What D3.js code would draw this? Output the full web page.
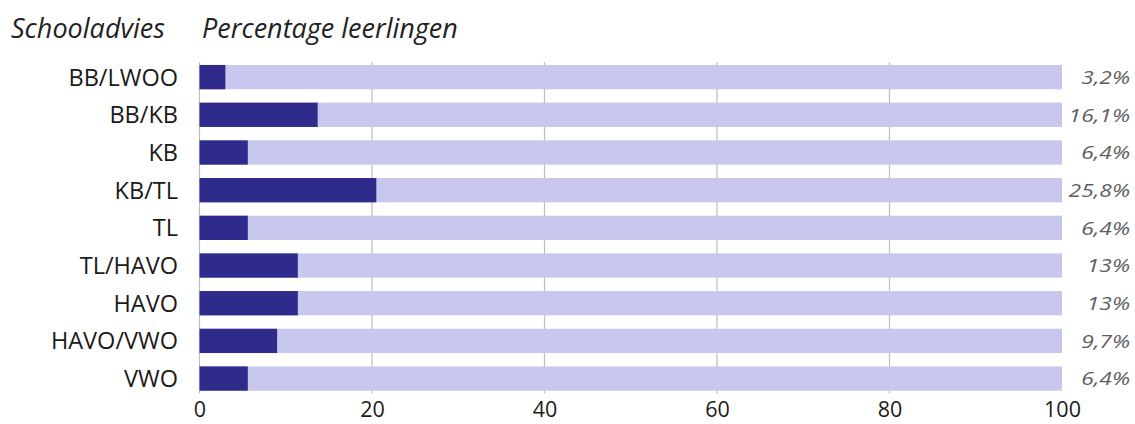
<!DOCTYPE html>
<html><head><meta charset="utf-8">
<script src="https://cdn.jsdelivr.net/npm/d3@7"></script>
<style>body{margin:0;background:#fff;font-family:"Open Sans",sans-serif;}</style>
</head><body><svg id="c" width="1135" height="424"></svg>
<script>
const categories = ["BB/LWOO","BB/KB","KB","KB/TL","TL","TL/HAVO","HAVO","HAVO/VWO","VWO"];
const barValues = [3.0, 13.7, 5.6, 20.5, 5.6, 11.4, 11.4, 9.0, 5.6];
const valueLabels = ["3,2%","16,1%","6,4%","25,8%","6,4%","13%","13%","9,7%","6,4%"];
const ticks = [0,20,40,60,80,100];

const svg = d3.select("#c");
const x = d3.scaleLinear().domain([0,100]).range([199.5,1062]);
const y = d3.scaleBand().domain(categories).range([58.2,397.5]).paddingInner(0.355).paddingOuter(0.18);

// gridlines
svg.append("g").selectAll("line").data(ticks.slice(0,5)).join("line")
  .attr("x1",d=>x(d)).attr("x2",d=>x(d))
  .attr("y1",y.range()[0]+4).attr("y2",y.range()[1]-4)
  .attr("stroke","#bdbdbd").attr("stroke-width",1.2);

// background bars
svg.append("g").selectAll("rect").data(categories).join("rect")
  .attr("x",x(0)).attr("y",d=>y(d)).attr("width",x(100)-x(0)).attr("height",y.bandwidth())
  .attr("fill","#c8c7ee");
// value bars
svg.append("g").selectAll("rect").data(categories).join("rect")
  .attr("x",x(0)).attr("y",d=>y(d)).attr("width",(d,i)=>x(barValues[i])-x(0)).attr("height",y.bandwidth())
  .attr("fill","#2f2b8c");

// category labels
svg.append("g").selectAll("text").data(categories).join("text")
  .attr("x",178).attr("y",d=>y(d)+y.bandwidth()/2).attr("dy","0.36em")
  .attr("text-anchor","end").attr("font-size",23.5).attr("fill","#1a1a1a").text(d=>d);

// value labels (slightly stretched horizontally like the reference)
svg.append("g").selectAll("text").data(valueLabels).join("text")
  .attr("transform",(d,i)=>`translate(1130,${y(categories[i])+y.bandwidth()/2}) scale(1.2,1)`)
  .attr("dy","0.36em")
  .attr("text-anchor","end").attr("font-size",19).attr("font-style","italic").attr("fill","#5e5e5e").text(d=>d);

// x axis
const ax = svg.append("g").attr("transform","translate(0,397)")
  .call(d3.axisBottom(x).tickValues(ticks).tickSize(0).tickPadding(5));
ax.select(".domain").remove();
ax.selectAll("text").attr("font-size",21.5).attr("font-family","Open Sans").attr("fill","#1a1a1a");

// titles
svg.append("text").attr("x",11).attr("y",38).attr("font-size",27).attr("font-style","italic").attr("fill","#222").text("Schooladvies");
svg.append("text").attr("x",202).attr("y",38).attr("font-size",27).attr("font-style","italic").attr("fill","#222").text("Percentage leerlingen");
</script></body></html>
